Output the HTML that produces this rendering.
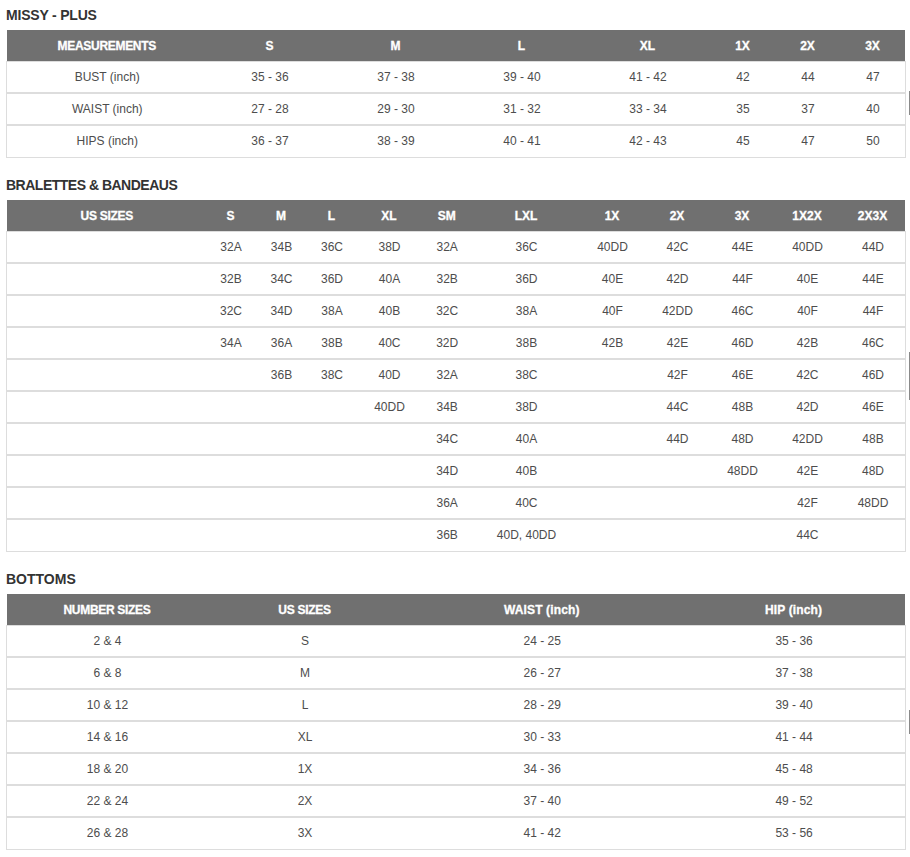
<!DOCTYPE html>
<html><head><meta charset="utf-8"><title>Size Chart</title>
<style>
html,body{margin:0;padding:0;background:#fff;}
body{width:910px;height:857px;overflow:hidden;position:relative;font-family:"Liberation Sans", Arial, sans-serif;color:#4d4d4d;}
h2{position:absolute;left:6px;margin:0;font-size:14px;line-height:20px;font-weight:bold;color:#333;white-space:nowrap;}
.tbl{position:absolute;left:6px;width:900px;}
.tbl::after{content:"";position:absolute;left:0;right:0;bottom:0;height:1px;background:#dddddd;}
.hd{position:absolute;left:1px;top:0;width:898px;height:31px;background:#707070;}
.th,.td{position:absolute;top:0;width:120px;text-align:center;white-space:nowrap;}
.th{color:#fff;font-weight:bold;-webkit-text-stroke:0.3px #fff;font-size:12px;line-height:31px;top:1px;}
.tr{position:absolute;left:0;width:898px;height:30px;border:1px solid #dddddd;}
.tr.last{height:31px;border-bottom:0;}
.td{font-size:12px;line-height:30px;top:0px;}
.bar{position:absolute;left:909px;width:1px;background:#8a8a8a;}
</style></head><body>
<h2 style="top:5px;letter-spacing:-0.2px">MISSY - PLUS</h2>
<div class="tbl" style="top:30px;height:128px">
<div class="hd"><div class="th" style="left:39.75px;letter-spacing:-0.3px">MEASUREMENTS</div><div class="th" style="left:202.50px">S</div><div class="th" style="left:328.50px">M</div><div class="th" style="left:454.50px">L</div><div class="th" style="left:580.50px">XL</div><div class="th" style="left:675.50px">1X</div><div class="th" style="left:740.50px">2X</div><div class="th" style="left:805.50px">3X</div></div>
<div class="tr" style="top:31px"><div class="td" style="left:40.25px">BUST (inch)</div><div class="td" style="left:203.00px">35 - 36</div><div class="td" style="left:329.00px">37 - 38</div><div class="td" style="left:455.00px">39 - 40</div><div class="td" style="left:581.00px">41 - 42</div><div class="td" style="left:676.00px">42</div><div class="td" style="left:741.00px">44</div><div class="td" style="left:806.00px">47</div></div>
<div class="tr" style="top:63px"><div class="td" style="left:40.25px">WAIST (inch)</div><div class="td" style="left:203.00px">27 - 28</div><div class="td" style="left:329.00px">29 - 30</div><div class="td" style="left:455.00px">31 - 32</div><div class="td" style="left:581.00px">33 - 34</div><div class="td" style="left:676.00px">35</div><div class="td" style="left:741.00px">37</div><div class="td" style="left:806.00px">40</div></div>
<div class="tr last" style="top:95px"><div class="td" style="left:40.25px">HIPS (inch)</div><div class="td" style="left:203.00px">36 - 37</div><div class="td" style="left:329.00px">38 - 39</div><div class="td" style="left:455.00px">40 - 41</div><div class="td" style="left:581.00px">42 - 43</div><div class="td" style="left:676.00px">45</div><div class="td" style="left:741.00px">47</div><div class="td" style="left:806.00px">50</div></div>
</div>
<h2 style="top:175px;letter-spacing:-0.5px">BRALETTES &amp; BANDEAUS</h2>
<div class="tbl" style="top:200px;height:352px">
<div class="hd"><div class="th" style="left:39.75px;letter-spacing:-0.3px">US SIZES</div><div class="th" style="left:163.50px">S</div><div class="th" style="left:214.00px">M</div><div class="th" style="left:264.50px">L</div><div class="th" style="left:322.00px">XL</div><div class="th" style="left:379.70px">SM</div><div class="th" style="left:459.00px">LXL</div><div class="th" style="left:545.00px">1X</div><div class="th" style="left:610.00px">2X</div><div class="th" style="left:675.00px">3X</div><div class="th" style="left:740.00px">1X2X</div><div class="th" style="left:805.50px">2X3X</div></div>
<div class="tr" style="top:31px"><div class="td" style="left:164.00px">32A</div><div class="td" style="left:214.50px">34B</div><div class="td" style="left:265.00px">36C</div><div class="td" style="left:322.50px">38D</div><div class="td" style="left:380.20px">32A</div><div class="td" style="left:459.50px">36C</div><div class="td" style="left:545.50px">40DD</div><div class="td" style="left:610.50px">42C</div><div class="td" style="left:675.50px">44E</div><div class="td" style="left:740.50px">40DD</div><div class="td" style="left:806.00px">44D</div></div>
<div class="tr" style="top:63px"><div class="td" style="left:164.00px">32B</div><div class="td" style="left:214.50px">34C</div><div class="td" style="left:265.00px">36D</div><div class="td" style="left:322.50px">40A</div><div class="td" style="left:380.20px">32B</div><div class="td" style="left:459.50px">36D</div><div class="td" style="left:545.50px">40E</div><div class="td" style="left:610.50px">42D</div><div class="td" style="left:675.50px">44F</div><div class="td" style="left:740.50px">40E</div><div class="td" style="left:806.00px">44E</div></div>
<div class="tr" style="top:95px"><div class="td" style="left:164.00px">32C</div><div class="td" style="left:214.50px">34D</div><div class="td" style="left:265.00px">38A</div><div class="td" style="left:322.50px">40B</div><div class="td" style="left:380.20px">32C</div><div class="td" style="left:459.50px">38A</div><div class="td" style="left:545.50px">40F</div><div class="td" style="left:610.50px">42DD</div><div class="td" style="left:675.50px">46C</div><div class="td" style="left:740.50px">40F</div><div class="td" style="left:806.00px">44F</div></div>
<div class="tr" style="top:127px"><div class="td" style="left:164.00px">34A</div><div class="td" style="left:214.50px">36A</div><div class="td" style="left:265.00px">38B</div><div class="td" style="left:322.50px">40C</div><div class="td" style="left:380.20px">32D</div><div class="td" style="left:459.50px">38B</div><div class="td" style="left:545.50px">42B</div><div class="td" style="left:610.50px">42E</div><div class="td" style="left:675.50px">46D</div><div class="td" style="left:740.50px">42B</div><div class="td" style="left:806.00px">46C</div></div>
<div class="tr" style="top:159px"><div class="td" style="left:214.50px">36B</div><div class="td" style="left:265.00px">38C</div><div class="td" style="left:322.50px">40D</div><div class="td" style="left:380.20px">32A</div><div class="td" style="left:459.50px">38C</div><div class="td" style="left:610.50px">42F</div><div class="td" style="left:675.50px">46E</div><div class="td" style="left:740.50px">42C</div><div class="td" style="left:806.00px">46D</div></div>
<div class="tr" style="top:191px"><div class="td" style="left:322.50px">40DD</div><div class="td" style="left:380.20px">34B</div><div class="td" style="left:459.50px">38D</div><div class="td" style="left:610.50px">44C</div><div class="td" style="left:675.50px">48B</div><div class="td" style="left:740.50px">42D</div><div class="td" style="left:806.00px">46E</div></div>
<div class="tr" style="top:223px"><div class="td" style="left:380.20px">34C</div><div class="td" style="left:459.50px">40A</div><div class="td" style="left:610.50px">44D</div><div class="td" style="left:675.50px">48D</div><div class="td" style="left:740.50px">42DD</div><div class="td" style="left:806.00px">48B</div></div>
<div class="tr" style="top:255px"><div class="td" style="left:380.20px">34D</div><div class="td" style="left:459.50px">40B</div><div class="td" style="left:675.50px">48DD</div><div class="td" style="left:740.50px">42E</div><div class="td" style="left:806.00px">48D</div></div>
<div class="tr" style="top:287px"><div class="td" style="left:380.20px">36A</div><div class="td" style="left:459.50px">40C</div><div class="td" style="left:740.50px">42F</div><div class="td" style="left:806.00px">48DD</div></div>
<div class="tr last" style="top:319px"><div class="td" style="left:380.20px">36B</div><div class="td" style="left:459.50px">40D, 40DD</div><div class="td" style="left:740.50px">44C</div></div>
</div>
<h2 style="top:569px;letter-spacing:0px">BOTTOMS</h2>
<div class="tbl" style="top:594px;height:256px">
<div class="hd"><div class="th" style="left:40.00px;letter-spacing:-0.3px">NUMBER SIZES</div><div class="th" style="left:237.50px;letter-spacing:-0.3px">US SIZES</div><div class="th" style="left:474.80px;letter-spacing:0.15px">WAIST (inch)</div><div class="th" style="left:726.60px;letter-spacing:0.15px">HIP (inch)</div></div>
<div class="tr" style="top:31px"><div class="td" style="left:40.50px">2 &amp; 4</div><div class="td" style="left:238.00px">S</div><div class="td" style="left:475.30px">24 - 25</div><div class="td" style="left:727.10px">35 - 36</div></div>
<div class="tr" style="top:63px"><div class="td" style="left:40.50px">6 &amp; 8</div><div class="td" style="left:238.00px">M</div><div class="td" style="left:475.30px">26 - 27</div><div class="td" style="left:727.10px">37 - 38</div></div>
<div class="tr" style="top:95px"><div class="td" style="left:40.50px">10 &amp; 12</div><div class="td" style="left:238.00px">L</div><div class="td" style="left:475.30px">28 - 29</div><div class="td" style="left:727.10px">39 - 40</div></div>
<div class="tr" style="top:127px"><div class="td" style="left:40.50px">14 &amp; 16</div><div class="td" style="left:238.00px">XL</div><div class="td" style="left:475.30px">30 - 33</div><div class="td" style="left:727.10px">41 - 44</div></div>
<div class="tr" style="top:159px"><div class="td" style="left:40.50px">18 &amp; 20</div><div class="td" style="left:238.00px">1X</div><div class="td" style="left:475.30px">34 - 36</div><div class="td" style="left:727.10px">45 - 48</div></div>
<div class="tr" style="top:191px"><div class="td" style="left:40.50px">22 &amp; 24</div><div class="td" style="left:238.00px">2X</div><div class="td" style="left:475.30px">37 - 40</div><div class="td" style="left:727.10px">49 - 52</div></div>
<div class="tr last" style="top:223px"><div class="td" style="left:40.50px">26 &amp; 28</div><div class="td" style="left:238.00px">3X</div><div class="td" style="left:475.30px">41 - 42</div><div class="td" style="left:727.10px">53 - 56</div></div>
</div>
<div class="bar" style="top:91px;height:24px"></div>
<div class="bar" style="top:352px;height:48px"></div>
<div class="bar" style="top:710px;height:24px"></div>
</body></html>
